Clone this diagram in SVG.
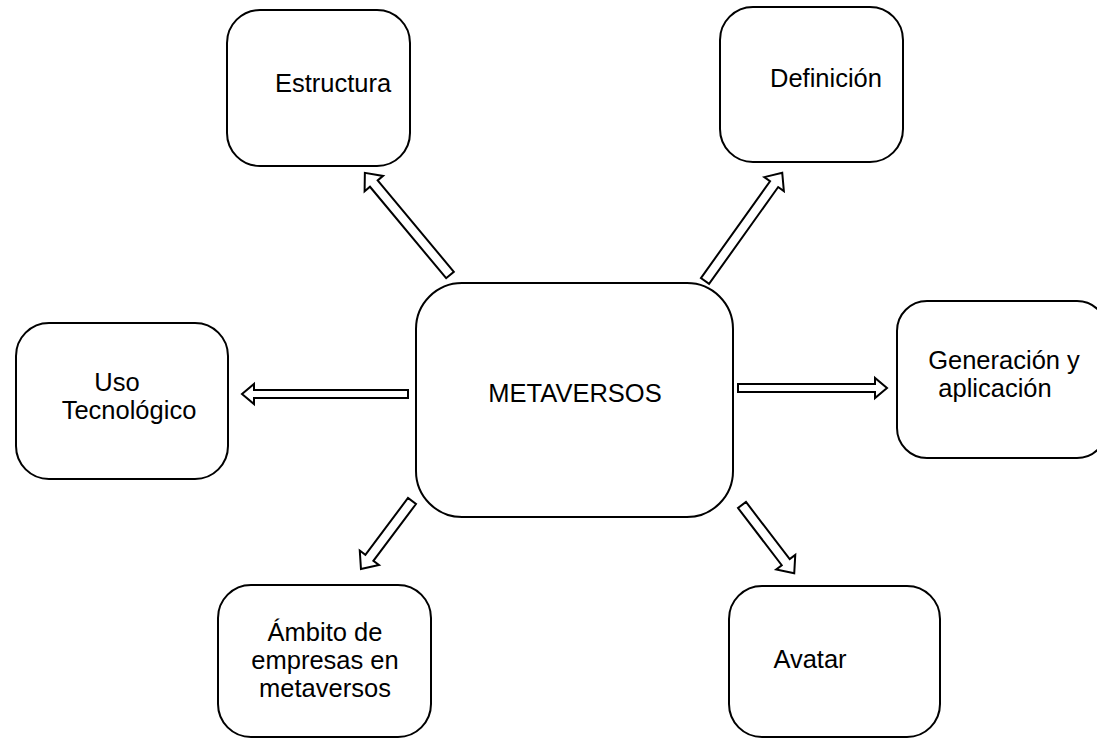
<svg xmlns="http://www.w3.org/2000/svg" width="1097" height="741" viewBox="0 0 1097 741">
<style>
.box{fill:#fff;stroke:#000;stroke-width:2}
.t{font-family:"Liberation Sans",Arial,sans-serif;font-size:25.5px;fill:#000;text-anchor:middle}
.arr{fill:#fff;stroke:#000;stroke-width:2;stroke-linejoin:miter}
</style>
<rect width="1097" height="741" fill="#fff"/>
<g id="connectors">
<path class="arr" transform="translate(450,275) rotate(230.2)" d="M0,-5 L119,-5 L119,-12 L133,0 L119,12 L119,5 L0,5 Z"/>
<path class="arr" transform="translate(705,281) rotate(-54.5)" d="M0,-5 L119,-5 L119,-12 L133,0 L119,12 L119,5 L0,5 Z"/>
<path class="arr" transform="translate(408,394) rotate(180)" d="M0,-4 L154,-4 L154,-10 L166,0 L154,10 L154,4 L0,4 Z"/>
<path class="arr" transform="translate(738,388)" d="M0,-4 L137,-4 L137,-10 L149,0 L137,10 L137,4 L0,4 Z"/>
<path class="arr" transform="translate(412,501) rotate(126.9)" d="M0,-5 L71,-5 L71,-12 L85,0 L71,12 L71,5 L0,5 Z"/>
<path class="arr" transform="translate(742,505) rotate(52.6)" d="M0,-5 L72,-5 L72,-12 L86,0 L72,12 L72,5 L0,5 Z"/>
</g>
<g id="metaversos">
<rect class="box" x="416" y="283" width="317" height="234" rx="46" ry="46"/>
<text class="t" x="575" y="402">METAVERSOS</text>
</g>
<g id="estructura">
<rect class="box" x="227" y="10" width="183" height="156" rx="33" ry="33"/>
<text class="t" x="333" y="92">Estructura</text>
</g>
<g id="definicion">
<rect class="box" x="720" y="7" width="183" height="155" rx="33" ry="33"/>
<text class="t" x="826" y="87">Definición</text>
</g>
<g id="uso">
<rect class="box" x="16" y="323" width="212" height="156" rx="33" ry="33"/>
<text class="t" x="117" y="391">Uso</text>
<text class="t" x="129" y="419">Tecnológico</text>
</g>
<g id="generacion">
<rect class="box" x="897" y="301" width="210" height="157" rx="30" ry="30"/>
<text class="t" x="1004" y="369">Generación y</text>
<text class="t" x="995" y="397">aplicación</text>
</g>
<g id="ambito">
<rect class="box" x="218" y="585" width="213" height="152" rx="33" ry="33"/>
<text class="t" x="325" y="641">Ámbito de</text>
<text class="t" x="325" y="669">empresas en</text>
<text class="t" x="325" y="697">metaversos</text>
</g>
<g id="avatar">
<rect class="box" x="729" y="586" width="211" height="151" rx="33" ry="33"/>
<text class="t" x="810" y="668">Avatar</text>
</g>
</svg>
